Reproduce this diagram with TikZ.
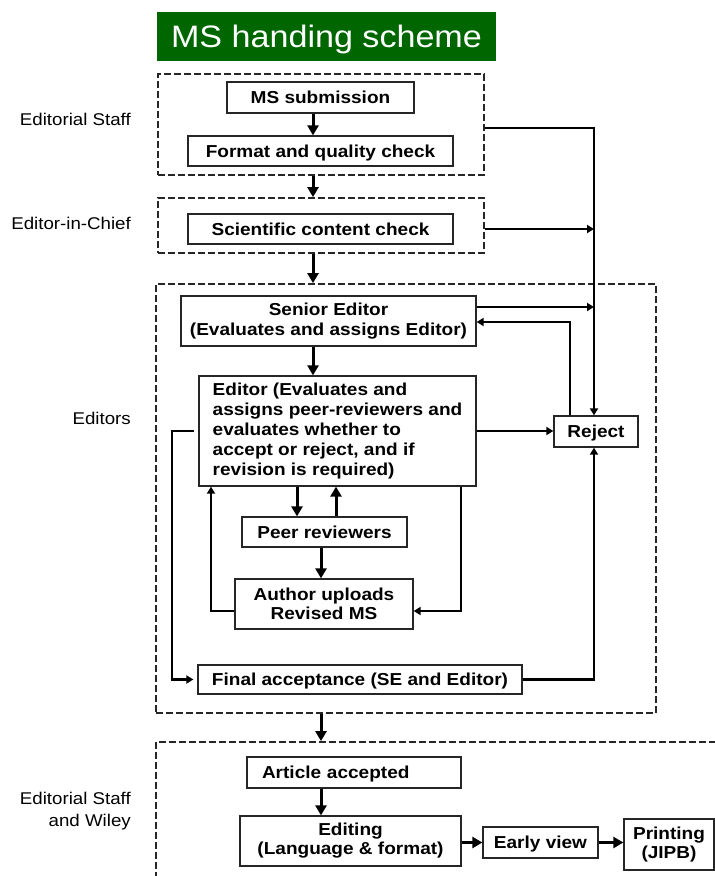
\documentclass[tikz,border=0pt]{standalone}
\usepackage{fontspec}
\setmainfont{Liberation Sans}[FakeStretch=1.1]
\usetikzlibrary{arrows.meta}
\definecolor{titlegreen}{RGB}{0,102,0}
\begin{document}
\begin{tikzpicture}[x=1pt,y=-1pt,
  box/.style={draw=black!85, line width=1.3pt, inner sep=0pt, align=center,
    font=\bfseries\fontsize{17.3}{19}\selectfont},
  oneline/.style={text height=12.4pt, text depth=0pt},
  dbox/.style={draw=black!85, dash pattern=on 7pt off 3pt, line width=1.8pt, inner sep=0pt},
  bigarrow/.style={line width=3pt, -{Triangle[length=10pt,width=11pt]}},
  smallarrow/.style={line width=2.2pt, -{Triangle[length=7pt,width=8pt]}},
  lab/.style={font=\fontsize{17}{22}\selectfont, align=right, anchor=east, inner sep=0pt}]
\useasboundingbox (0,0) rectangle (715,876);
\clip (0,0) rectangle (715,876);
\fill[white] (0,0) rectangle (715,876);

% title
\node[fill=titlegreen, minimum width=339pt, minimum height=49pt, inner sep=0pt,
      text=white, font=\fontsize{31}{31}\selectfont, text height=22pt, text depth=0pt] (title) at (326.5,36.5) {MS handing scheme};

% side labels
\node[lab] (l1) at (131,119) {Editorial Staff};
\node[lab] (l2) at (131,223) {Editor-in-Chief};
\node[lab] (l3) at (131,418) {Editors};
\node[lab] (l4) at (131,811) {Editorial Staff\\and Wiley};

% dashed groups
\node[dbox, minimum width=326pt, minimum height=101pt] (d1) at (321,124.5) {};
\node[dbox, minimum width=326pt, minimum height=55pt] (d2) at (321,225.5) {};
\node[dbox, minimum width=500pt, minimum height=429pt] (d3) at (406,498.5) {};
\node[dbox, minimum width=570pt, minimum height=150pt] (d4) at (441,817) {};

% boxes
\node[box, oneline, minimum width=187pt, minimum height=31pt] (ms) at (320.5,97.5) {MS submission};
\node[box, oneline, minimum width=265pt, minimum height=30pt] (fmt) at (320.5,151) {Format and quality check};
\node[box, oneline, minimum width=265pt, minimum height=30pt] (sci) at (320.5,229) {Scientific content check};
\node[box, minimum width=295pt, minimum height=50pt, font=\bfseries\fontsize{17.3}{20}\selectfont] (se) at (328.5,321) {Senior Editor\\(Evaluates and assigns Editor)};
\node[box, minimum width=277pt, minimum height=110pt, align=left, font=\bfseries\fontsize{17.3}{20}\selectfont] (ed) at (337.5,431)
  {Editor (Evaluates and\\assigns peer-reviewers and\\evaluates whether to\\accept or reject, and if\\revision is required)};
\node[box, oneline, minimum width=84pt, minimum height=31pt] (rej) at (596,431.5) {Reject};
\node[box, oneline, minimum width=165pt, minimum height=30pt] (peer) at (324.5,532) {Peer reviewers};
\node[box, minimum width=178pt, minimum height=50pt] (auth) at (324,604) {Author uploads\\Revised MS};
\node[box, oneline, minimum width=324pt, minimum height=29pt] (fin) at (360,679.5) {Final acceptance (SE and Editor)};
\node[box, oneline, text width=184pt, inner xsep=15pt, align=left, minimum height=31pt] (art) at (354,772.5) {Article accepted};
\node[box, minimum width=221pt, minimum height=50pt] (edit) at (350.5,841) {Editing\\(Language \& format)};
\node[box, oneline, minimum width=115pt, minimum height=31pt] (early) at (540.5,842.5) {Early view};
\node[box, minimum width=90pt, minimum height=51pt] (print) at (669,844.5) {Printing\\(JIPB)};

\coordinate (xr) at (594,0);

% main arrows
\draw[bigarrow] ([xshift=-7.5pt]ms.south) -- ([xshift=-7.5pt]fmt.north);
\draw[bigarrow] ([xshift=-8pt]d1.south) -- ([xshift=-8pt]d2.north);
\draw[bigarrow] ([xshift=-8pt]d2.south) -- ([xshift=-8pt]d2.south |- d3.north);
\draw[bigarrow] ([xshift=-15.5pt]se.south) -- ([xshift=-15.5pt]se.south |- ed.north);
\draw[bigarrow] ([xshift=-40.5pt]ed.south) -- ([xshift=-40.5pt]ed.south |- peer.north);
\draw[bigarrow] ([xshift=11.5pt]peer.north) -- ([xshift=11.5pt]peer.north |- ed.south);
\draw[bigarrow] ([xshift=-3.5pt]peer.south) -- ([xshift=-3.5pt]peer.south |- auth.north);
\draw[bigarrow] ([xshift=-85pt]d3.south) -- ([xshift=-85pt]d3.south |- d4.north);
\draw[bigarrow] ([xshift=-33pt]art.south) -- ([xshift=-33pt]art.south |- edit.north);
\draw[bigarrow] (edit.east |- early.west) -- (early.west);
\draw[bigarrow] (early.east) -- (early.east -| print.west);

% thin connectors
\draw[smallarrow] ([yshift=-3.5pt]d1.east) -| ([xshift=-2pt]rej.north);
\draw[smallarrow] ([yshift=-3.5pt]d2.east) -- ([yshift=-3.5pt]d2.east -| xr);
\draw[smallarrow] ([yshift=14pt]se.east) -- ([yshift=14pt]se.east -| xr);
\draw[smallarrow] ([xshift=-26pt]rej.north) |- ([yshift=-1pt]se.east);
\draw[smallarrow] (ed.east) -- (ed.east -| rej.west);
\draw[smallarrow] ([xshift=-4pt]ed.west) -- ++(-22,0) |- ([xshift=-4pt]fin.west);
\draw[smallarrow] ([yshift=-7pt]auth.west) -| ([xshift=-126.5pt]ed.south);
\draw[smallarrow] ([xshift=123.5pt]ed.south) |- ([yshift=-7pt]auth.east);
\draw[smallarrow] (fin.east) -| ([xshift=-2pt]rej.south);
\end{tikzpicture}
\end{document}
